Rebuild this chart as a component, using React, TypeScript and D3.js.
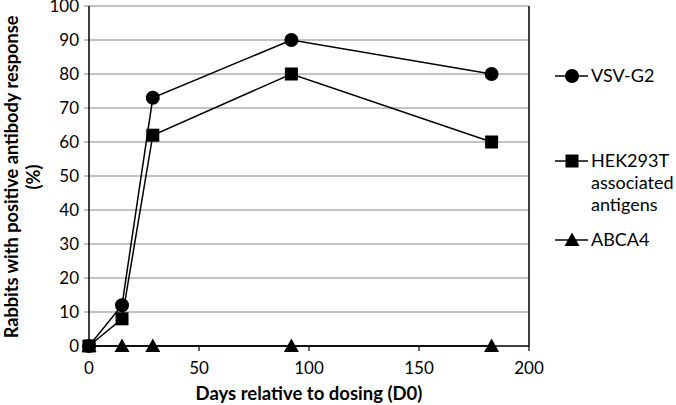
import React from "react";
import * as d3 from "d3";

const days = [0, 15, 29, 92, 183];
const vsvG2 = [0, 12, 73, 90, 80];
const hek293t = [0, 8, 62, 80, 60];
const abca4 = [0, 0, 0, 0, 0];
const xTicks = [0, 50, 100, 150, 200];
const yTicks = [0, 10, 20, 30, 40, 50, 60, 70, 80, 90, 100];

const seriesNames = ["VSV-G2", "HEK293T associated antigens", "ABCA4"];
const legendLines = [["VSV-G2"], ["HEK293T", "associated", "antigens"], ["ABCA4"]];
const seriesData = [vsvG2, hek293t, abca4];
const markers = ["circle", "square", "triangle"];

const W = 676, H = 405;
const m = { left: 89, right: 529, top: 6, bottom: 346 };
const font = "Lato, 'Open Sans', sans-serif";

function Marker({ type, x, y }: { type: string; x: number; y: number }) {
  if (type === "circle") return <circle cx={x} cy={y} r={7} fill="#000" />;
  if (type === "square") return <rect x={x - 6.5} y={y - 6.5} width={13} height={13} fill="#000" />;
  const s = 7.5;
  return <path d={`M${x},${y - s}L${x + s},${y + s * 0.8}L${x - s},${y + s * 0.8}Z`} fill="#000" />;
}

export default function App() {
  const x = d3.scaleLinear().domain([0, 200]).range([m.left, m.right]);
  const y = d3.scaleLinear().domain([0, 100]).range([m.bottom, m.top]);
  const line = d3.line<number>().x((_, i) => x(days[i])).y((d) => y(d));
  const legendY = [76, 161, 240];

  return (
    <svg width={W} height={H} style={{ position: "absolute", left: 0, top: 0, background: "#fff" }} fontFamily={font}>
      {yTicks.map((t) => (
        <g key={t}>
          <line x1={m.left - 5} x2={m.right} y1={y(t)} y2={y(t)} stroke={t === 0 ? "#000" : "#868686"} strokeWidth={t === 0 ? 1.5 : 1.2} />
          <text x={m.left - 10} y={y(t)} dy="0.36em" textAnchor="end" fontSize={17} fill="#000">{t}</text>
        </g>
      ))}
      <line x1={m.left} x2={m.left} y1={m.top} y2={m.bottom} stroke="#000" strokeWidth={1.5} />
      <line x1={m.right} x2={m.right} y1={m.top} y2={m.bottom} stroke="#000" strokeWidth={1.5} />
      {xTicks.map((t) => (
        <g key={t}>
          <line x1={x(t)} x2={x(t)} y1={m.bottom} y2={m.bottom + 5} stroke="#000" strokeWidth={1.2} />
          <text x={x(t)} y={368} dy="0.36em" textAnchor="middle" fontSize={17} fill="#000">{t}</text>
        </g>
      ))}
      {seriesData.map((s, si) => (
        <g key={si}>
          <path d={line(s) || ""} fill="none" stroke="#000" strokeWidth={1.5} />
          {s.map((v, i) => (
            <Marker key={i} type={markers[si]} x={x(days[i])} y={y(v)} />
          ))}
        </g>
      ))}
      <text x={309} y={400} textAnchor="middle" fontSize={18.5} fontWeight="bold" fill="#000">Days relative to dosing (D0)</text>
      <g transform={`translate(11, 177) rotate(-90)`}>
        <text x={0} y={0} dy="0.36em" textAnchor="middle" fontSize={18.2} fontWeight="bold" fill="#000">Rabbits with positive antibody response</text>
        <text x={0} y={22} dy="0.36em" textAnchor="middle" fontSize={18.2} fontWeight="bold" fill="#000">(%)</text>
      </g>
      {seriesNames.map((name, si) => (
        <g key={name}>
          <line x1={555} x2={588} y1={legendY[si]} y2={legendY[si]} stroke="#000" strokeWidth={1.5} />
          <Marker type={markers[si]} x={572} y={legendY[si]} />
          {legendLines[si].map((ln, li) => (
            <text key={li} x={591} y={legendY[si] + li * 22} dy="0.36em" fontSize={18} fill="#000">{ln}</text>
          ))}
        </g>
      ))}
    </svg>
  );
}
